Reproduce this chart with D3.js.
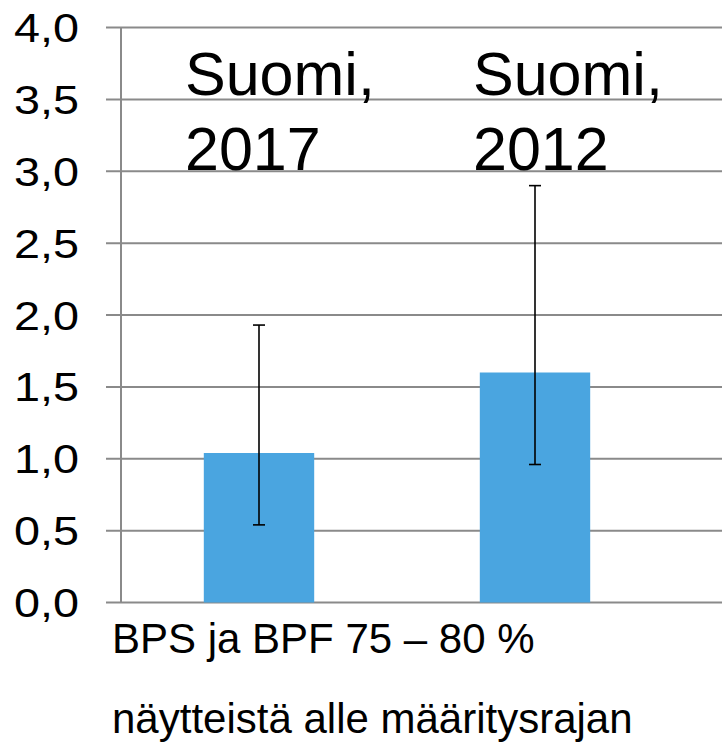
<!DOCTYPE html>
<html><head><meta charset="utf-8">
<script src="https://cdn.jsdelivr.net/npm/d3@7"></script>
<style>html,body{margin:0;padding:0;background:#fff;}svg{display:block;}</style>
</head><body>
<svg id="chart" width="722" height="742"></svg>
<script>
const categories = ["Suomi, 2017", "Suomi, 2012"];
const values = [1.04, 1.60];
const errLow = [0.54, 0.96];
const errHigh = [1.93, 2.90];
const yTicks = [0, 0.5, 1, 1.5, 2, 2.5, 3, 3.5, 4];
const labelLines = [["Suomi,", "2017"], ["Suomi,", "2012"]];
const xTitleLines = ["BPS ja BPF 75 – 80 %", "näytteistä alle määritysrajan"];

(function () {
const W = 722, H = 742;
const mLeft = 121, mRight = 673, mTop = 27.5, mBottom = 602.5;
const svg = d3.select("#chart");
const font = "'Liberation Sans', Arial, sans-serif";

const y = d3.scaleLinear().domain([0, 4]).range([mBottom, mTop]);
const x = d3.scaleBand().domain(categories).range([mLeft, mRight]).padding(0);
const bw = x.bandwidth() / 2.5;
const fmt = v => d3.format(".1f")(v).replace(".", ",");

svg.append("g").selectAll("line").data(yTicks).join("line")
  .attr("x1", mLeft - 15).attr("x2", W)
  .attr("y1", d => y(d)).attr("y2", d => y(d))
  .attr("stroke", "#8a8a8a").attr("stroke-width", 2);

svg.append("line").attr("x1", mLeft).attr("x2", mLeft)
  .attr("y1", y(4)).attr("y2", y(0))
  .attr("stroke", "#8a8a8a").attr("stroke-width", 2);

svg.append("g").selectAll("text").data(yTicks).join("text")
  .attr("x", 79).attr("y", d => y(d) + 14.5)
  .attr("text-anchor", "end")
  .attr("font-family", font).attr("font-size", 41)
  .attr("textLength", 65).attr("lengthAdjust", "spacingAndGlyphs")
  .attr("fill", "#000")
  .text(fmt);

svg.append("g").selectAll("rect").data(categories).join("rect")
  .attr("x", d => x(d) + (x.bandwidth() - bw) / 2)
  .attr("width", bw)
  .attr("y", (d, i) => y(values[i]))
  .attr("height", (d, i) => y(0) - y(values[i]))
  .attr("fill", "#4aa5e0");

const eg = svg.append("g").attr("stroke", "#000").attr("stroke-width", 1.6);
categories.forEach((c, i) => {
  const cx = x(c) + x.bandwidth() / 2;
  eg.append("line").attr("x1", cx).attr("x2", cx).attr("y1", y(errLow[i])).attr("y2", y(errHigh[i]));
  eg.append("line").attr("x1", cx - 6).attr("x2", cx + 6).attr("y1", y(errLow[i])).attr("y2", y(errLow[i]));
  eg.append("line").attr("x1", cx - 6).attr("x2", cx + 6).attr("y1", y(errHigh[i])).attr("y2", y(errHigh[i]));
});

const labelOffsets = [64, 76];
categories.forEach((c, i) => {
  const t = svg.append("text")
    .attr("font-family", font).attr("font-size", 61).attr("fill", "#000");
  labelLines[i].forEach((ln, j) => {
    t.append("tspan").attr("x", x(c) + labelOffsets[i]).attr("y", 95 + j * 75).text(ln);
  });
});

xTitleLines.forEach((ln, j) => {
  svg.append("text").attr("x", 112).attr("y", 653 + j * 80)
    .attr("font-family", font).attr("font-size", 42).attr("fill", "#000")
    .text(ln);
});
})();
</script>
</body></html>
